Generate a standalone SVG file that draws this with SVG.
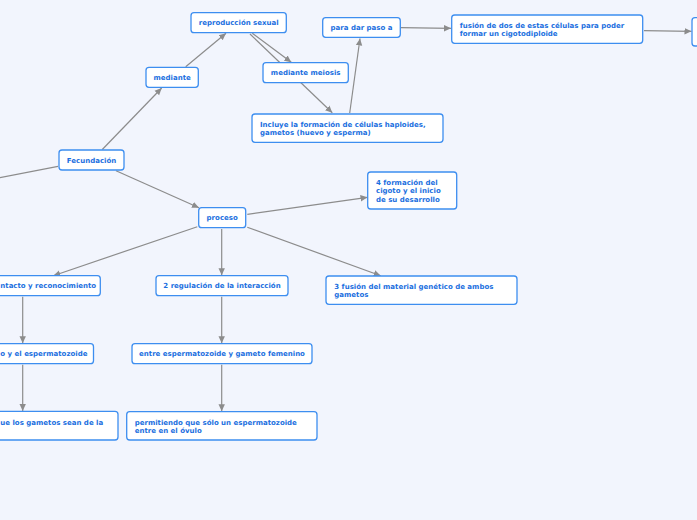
<svg xmlns="http://www.w3.org/2000/svg" width="697" height="520" viewBox="0 0 697 520">
<defs>
<marker id="arr" markerUnits="userSpaceOnUse" markerWidth="8" markerHeight="8" viewBox="0 0 8 8" refX="7" refY="4" orient="auto">
<path d="M0,0.8 L7,4 L0,7.2 Z" fill="#8c8c8c"/>
</marker>
<style>
.n rect{fill:#ffffff;stroke:#3d8ef0;stroke-width:1.3}
.n text{font-family:"DejaVu Sans",Verdana,sans-serif;font-size:7px;font-weight:bold;fill:#1b6fe0}
.c{text-anchor:middle}
#connectors line{stroke:#8c8c8c;stroke-width:1.2;fill:none}
#connectors line.a{marker-end:url(#arr)}
</style>
</defs>
<rect x="0" y="0" width="697" height="520" fill="#f2f5fd"/>
<g id="connectors">
<line x1="58" y1="166.3" x2="-20" y2="181.5"/>
<line class="a" x1="102.3" y1="149.5" x2="161.7" y2="88"/>
<line class="a" x1="185.7" y1="66.7" x2="226" y2="33.3"/>
<line class="a" x1="252.3" y1="33.3" x2="291.3" y2="62.3"/>
<line class="a" x1="250" y1="34" x2="332.3" y2="112.7"/>
<line class="a" x1="349.7" y1="113" x2="360" y2="38.5"/>
<line class="a" x1="401" y1="27.7" x2="451" y2="28.3"/>
<line class="a" x1="644" y1="30.7" x2="691.5" y2="31.3"/>
<line class="a" x1="116" y1="170.7" x2="199" y2="207.7"/>
<line class="a" x1="247.3" y1="214.3" x2="367.5" y2="197.3"/>
<line class="a" x1="247.3" y1="227.3" x2="380.7" y2="275.7"/>
<line class="a" x1="221.7" y1="229" x2="221.7" y2="275.3"/>
<line class="a" x1="197.3" y1="226.7" x2="53.3" y2="275.7"/>
<line class="a" x1="22.7" y1="296.7" x2="22.7" y2="343.3"/>
<line class="a" x1="22.7" y1="364.7" x2="22.7" y2="411"/>
<line class="a" x1="221.7" y1="296.7" x2="221.7" y2="343.3"/>
<line class="a" x1="221.7" y1="364.7" x2="221.7" y2="411.3"/>
</g>
<g id="fecundacion" class="n"><rect x="59" y="150" width="65" height="20" rx="3"/><text class="c" x="91.5" y="162.5">Fecundación</text></g>
<g id="mediante" class="n"><rect x="146" y="67.3" width="52.3" height="20" rx="3"/><text class="c" x="172.2" y="79.8">mediante</text></g>
<g id="reproduccion" class="n"><rect x="191" y="12.7" width="95.3" height="20" rx="3"/><text class="c" x="238.7" y="25.2">reproducción sexual</text></g>
<g id="meiosis" class="n"><rect x="263" y="62.7" width="85.3" height="20" rx="3"/><text class="c" x="305.7" y="75.2">mediante meiosis</text></g>
<g id="incluye" class="n"><rect x="252" y="114" width="191" height="28.3" rx="3"/><text x="260" y="127.3">Incluye la formación de células haploides,</text><text x="260" y="135.3">gametos (huevo y esperma)</text></g>
<g id="paradar" class="n"><rect x="322.7" y="17.7" width="77.6" height="19.6" rx="3"/><text class="c" x="361.5" y="30">para dar paso a</text></g>
<g id="fusiondos" class="n"><rect x="451.7" y="15" width="191" height="28.3" rx="3"/><text x="459.7" y="28.3">fusión de dos de estas células para poder</text><text x="459.7" y="36.3">formar un cigotodiploide</text></g>
<g id="derecha" class="n"><rect x="692" y="17.7" width="40" height="28.3" rx="3"/></g>
<g id="proceso" class="n"><rect x="198.7" y="207.7" width="47" height="20" rx="3"/><text class="c" x="222.2" y="220.2">proceso</text></g>
<g id="formacion4" class="n"><rect x="367.7" y="172" width="89" height="37" rx="3"/><text x="376" y="185.3">4 formación del</text><text x="376" y="193.3">cigoto y el inicio</text><text x="376" y="201.5">de su desarrollo</text></g>
<g id="fusion3" class="n"><rect x="326" y="276" width="191" height="28.3" rx="3"/><text x="334.3" y="289.3">3 fusión del material genético de ambos</text><text x="334.3" y="297.3">gametos</text></g>
<g id="regulacion2" class="n"><rect x="156" y="275.7" width="132" height="20" rx="3"/><text class="c" x="222" y="288.2">2 regulación de la interacción</text></g>
<g id="contacto1" class="n"><rect x="-40" y="275.7" width="140.3" height="20" rx="3"/><text x="0.3" y="288.2">ntacto y reconocimiento</text></g>
<g id="espermatozoide" class="n"><rect x="-40" y="343.7" width="133.5" height="20" rx="3"/><text x="0.3" y="356.2">o y el espermatozoide</text></g>
<g id="gametos" class="n"><rect x="-40" y="411.3" width="158" height="28.7" rx="3"/><text x="0.3" y="425">ue los gametos sean de la</text></g>
<g id="entre" class="n"><rect x="132" y="343.7" width="180" height="20" rx="3"/><text class="c" x="222" y="356.2">entre espermatozoide y gameto femenino</text></g>
<g id="permitiendo" class="n"><rect x="126.7" y="411.7" width="190.3" height="28.3" rx="3"/><text x="134.7" y="425.3">permitiendo que sólo un espermatozoide</text><text x="134.7" y="433.3">entre en el óvulo</text></g>
</svg>
